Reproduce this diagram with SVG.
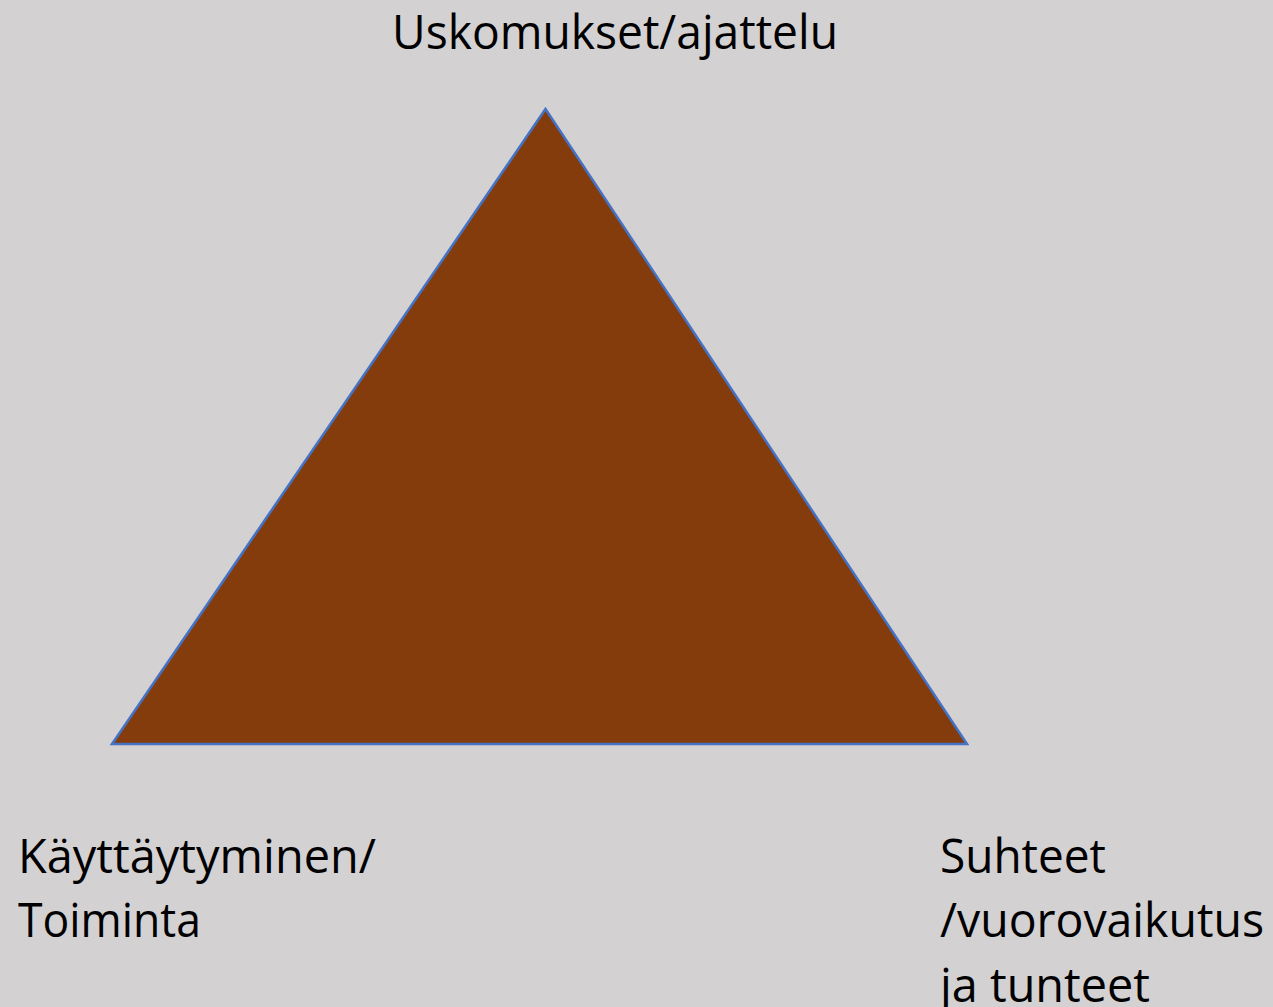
<svg xmlns="http://www.w3.org/2000/svg" width="1273" height="1007" viewBox="0 0 1273 1007">
<style>
.lbl{font-family:"Open Sans","Liberation Sans",sans-serif;font-size:47px;fill:#000}
</style>
<rect x="0" y="0" width="1273" height="1007" fill="#D3D1D2"/>
<g id="triangle">
<polygon points="545.5,109 112,744 967,744" fill="#843C0C" stroke="#4472C4" stroke-width="2.5" stroke-linejoin="miter"/>
</g>
<g id="connectors"></g>
<g id="top-label">
<text class="lbl" x="392" y="49" textLength="446" lengthAdjust="spacingAndGlyphs">Uskomukset/ajattelu</text>
</g>
<g id="left-label">
<text class="lbl" x="18" y="873" textLength="358" lengthAdjust="spacingAndGlyphs">Käyttäytyminen/</text>
<text class="lbl" x="18" y="937" textLength="183" lengthAdjust="spacingAndGlyphs">Toiminta</text>
</g>
<g id="right-label">
<text class="lbl" x="940" y="873" textLength="166" lengthAdjust="spacingAndGlyphs">Suhteet</text>
<text class="lbl" x="940" y="937" textLength="324" lengthAdjust="spacingAndGlyphs">/vuorovaikutus</text>
<text class="lbl" x="940" y="1002" textLength="210" lengthAdjust="spacingAndGlyphs">ja tunteet</text>
</g>
</svg>
